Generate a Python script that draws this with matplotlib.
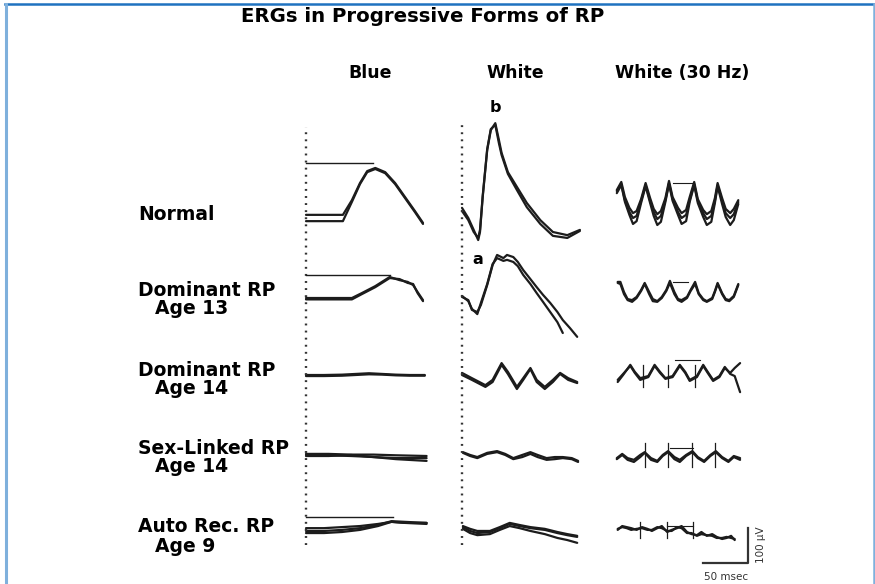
import matplotlib
matplotlib.use("Agg")
import matplotlib.pyplot as plt
from matplotlib.lines import Line2D

# ---------------- data (time in ms, amplitude in microvolts) ----------------
title = "ERGs in Progressive Forms of RP"
col_titles = ["Blue", "White", "White (30 Hz)"]
row_names = ["Normal", "Dominant RP", "Dominant RP", "Sex-Linked RP", "Auto Rec. RP"]
row_ages = [None, "Age 13", "Age 14", "Age 14", "Age 9"]

# Blue (rod) responses
blue_normal_t = [0, 41, 51, 60, 68, 77, 88, 99, 110, 121, 130]
blue_normal_1 = [9, 9, 51, 100, 134, 143, 131, 100, 60, 20, -14]
blue_normal_2 = [-9, -9, 46, 97, 131, 140, 128, 97, 57, 17, -17]
blue_dom13_t = [0, 51, 62, 77, 93, 104, 113, 119, 124, 130]
blue_dom13_1 = [0, 0, 14, 34, 60, 51, 46, 37, 17, -6]
blue_dom13_2 = [-4, -4, 11, 31, 57, 54, 43, 40, 14, -9]
blue_dom14_t = [0, 20, 40, 55, 70, 85, 100, 115, 132]
blue_dom14_1 = [0, 0, 1, 3, 5, 3, 1, 0, 0]
blue_dom14_2 = [-3, -3, -2, 0, 2, 1, -1, -2, -2]
blue_sex_t = [0, 25, 50, 75, 100, 134]
blue_sex_1 = [6, 6, 4, 4, 2, 0]
blue_sex_2 = [0, 0, 3, -3, -9, -14]
blue_sex_3 = [3, 2, 0, -3, -6, -6]
blue_auto_t = [0, 20, 40, 60, 80, 95, 110, 134]
blue_auto_1 = [-23, -23, -20, -14, -3, 9, 6, 6]
blue_auto_2 = [-9, -9, -6, -3, 3, 9, 6, 3]
blue_auto_3 = [-17, -17, -14, -9, 0, 11, 9, 6]
# horizontal peak-level markers (level, end time) for blue column rows
blue_peak_level = [157, 66, None, None, 23]
blue_peak_end = [74, 93, None, None, 97]

# White (mixed) responses
white_normal_t = [0, 7, 13, 18, 20, 23, 28, 32, 37, 41, 44, 51, 61, 72, 87, 101, 117, 131]
white_normal_1 = [29, 0, -34, -63, -40, 60, 194, 251, 271, 223, 186, 131, 89, 43, -6, -40, -49, -34]
white_normal_2 = [20, -6, -40, -57, -34, 63, 197, 254, 266, 214, 180, 126, 80, 31, -17, -51, -57, -37]
white_dom13_t = [0, 7, 11, 17, 21, 28, 34, 39, 46, 50, 57, 62, 68, 76, 83, 90, 98, 106, 112, 120, 128]
white_dom13_1 = [3, -6, -34, -40, -20, 37, 94, 123, 114, 123, 117, 103, 80, 54, 31, 9, -14, -40, -63, -86, -111]
white_dom13_t2 = [0, 7, 11, 17, 21, 28, 34, 39, 46, 50, 57, 62, 68, 76, 83, 90, 98, 106, 112]
white_dom13_2 = [6, -9, -31, -46, -14, 40, 97, 114, 106, 109, 103, 91, 66, 40, 14, -11, -40, -69, -100]
white_dom14_t = [0, 11, 26, 34, 44, 51, 61, 68, 76, 83, 92, 101, 109, 118, 128]
white_dom14_1 = [6, -9, -29, -14, 34, 9, -34, -9, 20, -14, -34, -14, 6, -9, -20]
white_dom14_2 = [0, -14, -34, -20, 29, 3, -40, -14, 17, -20, -40, -20, 3, -14, -23]
white_sex_t = [1, 9, 17, 28, 39, 48, 57, 67, 76, 84, 94, 103, 112, 122, 129]
white_sex_1 = [11, 3, -3, 9, 14, 6, -6, 3, 11, 3, -6, -3, -3, -6, -14]
white_sex_2 = [9, 0, -6, 6, 11, 3, -9, -3, 6, -3, -11, -9, -6, -9, -17]
white_auto_t = [1, 9, 17, 31, 42, 53, 64, 76, 92, 106, 117, 128]
white_auto_1 = [-6, -17, -23, -20, -9, 3, -3, -9, -14, -23, -29, -34]
white_auto_2 = [-11, -23, -29, -26, -14, -3, -9, -17, -26, -37, -43, -51]
white_auto_3 = [-3, -11, -17, -17, -6, 6, 0, -6, -11, -20, -26, -31]

# White 30 Hz flicker responses
flick_normal_t = [2, 7, 11, 16, 20, 24, 29, 34, 39, 43, 47, 51, 56, 60, 64, 70, 74, 79, 83, 88,
                  92, 98, 102, 107, 111, 114, 119, 123, 128, 132, 137]
flick_normal_1 = [80, 103, 60, 29, 14, 20, 54, 100, 57, 26, 11, 20, 57, 106, 60, 29, 14, 23, 60, 103,
                  54, 23, 11, 20, 57, 100, 57, 26, 14, 26, 51]
flick_normal_2 = [71, 94, 46, 9, -17, -9, 43, 91, 43, 6, -20, -11, 46, 97, 49, 9, -17, -9, 46, 94,
                  43, 3, -20, -11, 43, 91, 40, 3, -20, -6, 40]
flick_normal_3 = [77, 97, 51, 17, 0, 6, 49, 94, 49, 17, -3, 6, 51, 100, 54, 17, 0, 9, 51, 97,
                  49, 14, -3, 6, 49, 94, 49, 14, 0, 11, 46]
flick_dom13_t = [3, 6, 10, 14, 19, 24, 29, 33, 38, 42, 47, 52, 57, 61, 66, 70, 74, 80, 84, 89,
                 93, 98, 102, 108, 111, 114, 119, 123, 127, 132, 137]
flick_dom13_1 = [46, 46, 17, -3, -6, 3, 23, 43, 17, -3, -9, 3, 23, 49, 17, -3, -6, 3, 23, 46,
                 14, -3, -9, 0, 20, 43, 14, -3, -6, 6, 40]
flick_dom13_2 = [43, 40, 11, -6, -11, 0, 20, 40, 11, -9, -11, 0, 20, 43, 11, -6, -11, 0, 20, 40,
                 11, -6, -11, -3, 17, 40, 11, -6, -9, 3, 37]
flick_dom14_t = [3, 9, 17, 22, 28, 37, 44, 50, 56, 64, 72, 78, 83, 91, 98, 103, 109, 116, 122, 128, 133, 139]
flick_dom14_1 = [-20, 0, 29, 9, -9, -3, 29, 9, -9, -3, 29, 9, -14, -3, 29, 9, -14, -3, 23, 3, -3, -49]
flick_dom14_2 = [-14, 3, 26, 6, -14, -6, 26, 6, -11, -6, 26, 6, -17, -6, 26, 6, -17, -6, 20, 6, 20, 34]
flick_sex_t = [2, 8, 14, 21, 28, 33, 40, 47, 53, 59, 66, 72, 79, 86, 92, 99, 106, 112, 119, 126, 132, 139]
flick_sex_1 = [-9, 3, -11, -17, -3, 9, -11, -17, 0, 11, -9, -17, 0, 11, -6, -17, 0, 11, -6, -17, -3, -11]
flick_sex_2 = [-6, 6, -6, -11, 3, 11, -6, -14, 3, 14, -3, -11, 3, 14, -3, -14, 3, 14, -3, -14, 0, -6]
flick_auto_t = [3, 8, 13, 18, 24, 30, 36, 41, 47, 52, 58, 63, 69, 74, 80, 85, 91, 96, 102, 108,
                113, 119, 124, 129, 133]
flick_auto_1 = [-14, -3, -6, -9, -14, -6, -11, -17, -9, -3, -20, -14, -9, -3, -20, -26, -29, -20, -31, -26,
                -34, -40, -37, -31, -43]
flick_auto_2 = [-11, -6, -9, -14, -11, -9, -14, -14, -6, -9, -17, -17, -6, -9, -23, -23, -31, -26, -29, -31,
                -37, -37, -34, -37, -40]
# stimulus tick marks on flicker traces: times, top, bottom
flick_ticks_t = [None, None, [31, 59, 89], [33, 59, 86, 111], [28, 58, 87]]
flick_ticks_top = [None, None, 29, 37, 9]
flick_ticks_bot = [None, None, -34, -31, -37]
# horizontal bracket markers: (level, start, end)
flick_bar_level = [100, 46, 43, 23, -3]
flick_bar_start = [64, 64, 67, 61, 58]
flick_bar_end = [86, 81, 94, 87, 87]

# calibration
cal_ms = 50
cal_uv = 100

# ---------------- layout ----------------
W, H = 875, 584
PX_PER_MS = 0.9
PX_PER_UV = 0.35
COL_X0 = [306, 462, 615]
ROW_BASE = [218, 298, 375, 456, 525]
AX_TOP, AX_BOT = 100, 575
INK = "#1c1c1c"
LW = 1.6

fig = plt.figure(figsize=(W / 100, H / 100), dpi=100)
fig.patch.set_facecolor("white")


def fx(x):
    return x / W


def fy(y):
    return 1 - y / H


def make_col(x0):
    left, right = x0 - 15, x0 + 170
    ax = fig.add_axes([fx(left), fy(AX_BOT), (right - left) / W, (AX_BOT - AX_TOP) / H])
    ax.set_xlim(-15 / PX_PER_MS, 170 / PX_PER_MS)
    ax.set_ylim(0, (AX_BOT - AX_TOP) / PX_PER_UV)
    ax.axis("off")
    return ax


offsets = [(AX_BOT - b) / PX_PER_UV for b in ROW_BASE]


def uv_at(py):
    return (AX_BOT - py) / PX_PER_UV


axes = [make_col(x0) for x0 in COL_X0]

blue_traces = [
    [(blue_normal_t, blue_normal_1), (blue_normal_t, blue_normal_2)],
    [(blue_dom13_t, blue_dom13_1), (blue_dom13_t, blue_dom13_2)],
    [(blue_dom14_t, blue_dom14_1), (blue_dom14_t, blue_dom14_2)],
    [(blue_sex_t, blue_sex_1), (blue_sex_t, blue_sex_2), (blue_sex_t, blue_sex_3)],
    [(blue_auto_t, blue_auto_1), (blue_auto_t, blue_auto_2), (blue_auto_t, blue_auto_3)],
]
white_traces = [
    [(white_normal_t, white_normal_1), (white_normal_t, white_normal_2)],
    [(white_dom13_t, white_dom13_1), (white_dom13_t2, white_dom13_2)],
    [(white_dom14_t, white_dom14_1), (white_dom14_t, white_dom14_2)],
    [(white_sex_t, white_sex_1), (white_sex_t, white_sex_2)],
    [(white_auto_t, white_auto_1), (white_auto_t, white_auto_2), (white_auto_t, white_auto_3)],
]
flick_traces = [
    [(flick_normal_t, flick_normal_1), (flick_normal_t, flick_normal_2), (flick_normal_t, flick_normal_3)],
    [(flick_dom13_t, flick_dom13_1), (flick_dom13_t, flick_dom13_2)],
    [(flick_dom14_t, flick_dom14_1), (flick_dom14_t, flick_dom14_2)],
    [(flick_sex_t, flick_sex_1), (flick_sex_t, flick_sex_2)],
    [(flick_auto_t, flick_auto_1), (flick_auto_t, flick_auto_2)],
]

for ax, col in zip(axes, [blue_traces, white_traces, flick_traces]):
    for off, traces in zip(offsets, col):
        for t, v in traces:
            ax.plot(t, [off + a for a in v], color=INK, lw=LW, solid_joinstyle="round",
                    solid_capstyle="round")

# stimulus (dotted) lines for blue and white columns
for ax, top in zip(axes[:2], [127, 125]):
    ax.plot([0, 0], [uv_at(545), uv_at(top)], color="#333333", lw=1.7,
            linestyle=(0, (0.8, 2.2)))

# peak-level markers on blue column
for off, lvl, tend in zip(offsets, blue_peak_level, blue_peak_end):
    if lvl is not None:
        axes[0].plot([0, tend], [off + lvl, off + lvl], color=INK, lw=1.0)

# flicker markers
for i, off in enumerate(offsets):
    axes[2].plot([flick_bar_start[i], flick_bar_end[i]],
                 [off + flick_bar_level[i]] * 2, color=INK, lw=0.8)
    if flick_ticks_t[i]:
        for tt in flick_ticks_t[i]:
            axes[2].plot([tt, tt], [off + flick_ticks_bot[i], off + flick_ticks_top[i]],
                         color=INK, lw=0.9)

# calibration bar
cal_x = 148
cal_top = offsets[4] - 9
axes[2].plot([cal_x - cal_ms, cal_x, cal_x], [cal_top - cal_uv, cal_top - cal_uv, cal_top],
             color="#333333", lw=1.6)

# ---------------- text ----------------
FONT = "DejaVu Sans"
fig.text(fx(423), fy(17), title, ha="center", va="center", fontsize=14.2,
         fontweight="bold", family=FONT)
for cx, ct in zip([370, 515, 682], col_titles):
    fig.text(fx(cx), fy(73), ct, ha="center", va="center", fontsize=12.5,
             fontweight="bold", family=FONT)
name_y = [214, 290, 370, 448, 527]
for y, name, age in zip(name_y, row_names, row_ages):
    fig.text(fx(138), fy(y), name, ha="left", va="center", fontsize=13.5,
             fontweight="bold", family=FONT)
    if age:
        fig.text(fx(155), fy(y + 19), age, ha="left", va="center", fontsize=13.5,
                 fontweight="bold", family=FONT)
fig.text(fx(495), fy(107), "b", ha="center", va="center", fontsize=11.5,
         fontweight="bold", family=FONT)
fig.text(fx(478), fy(259), "a", ha="center", va="center", fontsize=11.5,
         fontweight="bold", family=FONT)
fig.text(fx(726), fy(577), "50 msec", ha="center", va="center", fontsize=7.5,
         family=FONT, color="#333333")
fig.text(fx(761), fy(545), "100 \u00b5V", ha="center", va="center", fontsize=7.5,
         rotation=90, family=FONT, color="#333333")

# ---------------- frame ----------------
fig.add_artist(Line2D([fx(5), fx(875)], [fy(4), fy(4)], transform=fig.transFigure,
                      color="#1f72c0", lw=1.8))
fig.add_artist(Line2D([fx(6), fx(6)], [fy(4), fy(584)], transform=fig.transFigure,
                      color="#7fb0dc", lw=2.2))
fig.add_artist(Line2D([fx(873.5), fx(873.5)], [fy(4), fy(584)], transform=fig.transFigure,
                      color="#7fb0dc", lw=1.8))

fig.savefig("out.png", dpi=100, facecolor="white")
